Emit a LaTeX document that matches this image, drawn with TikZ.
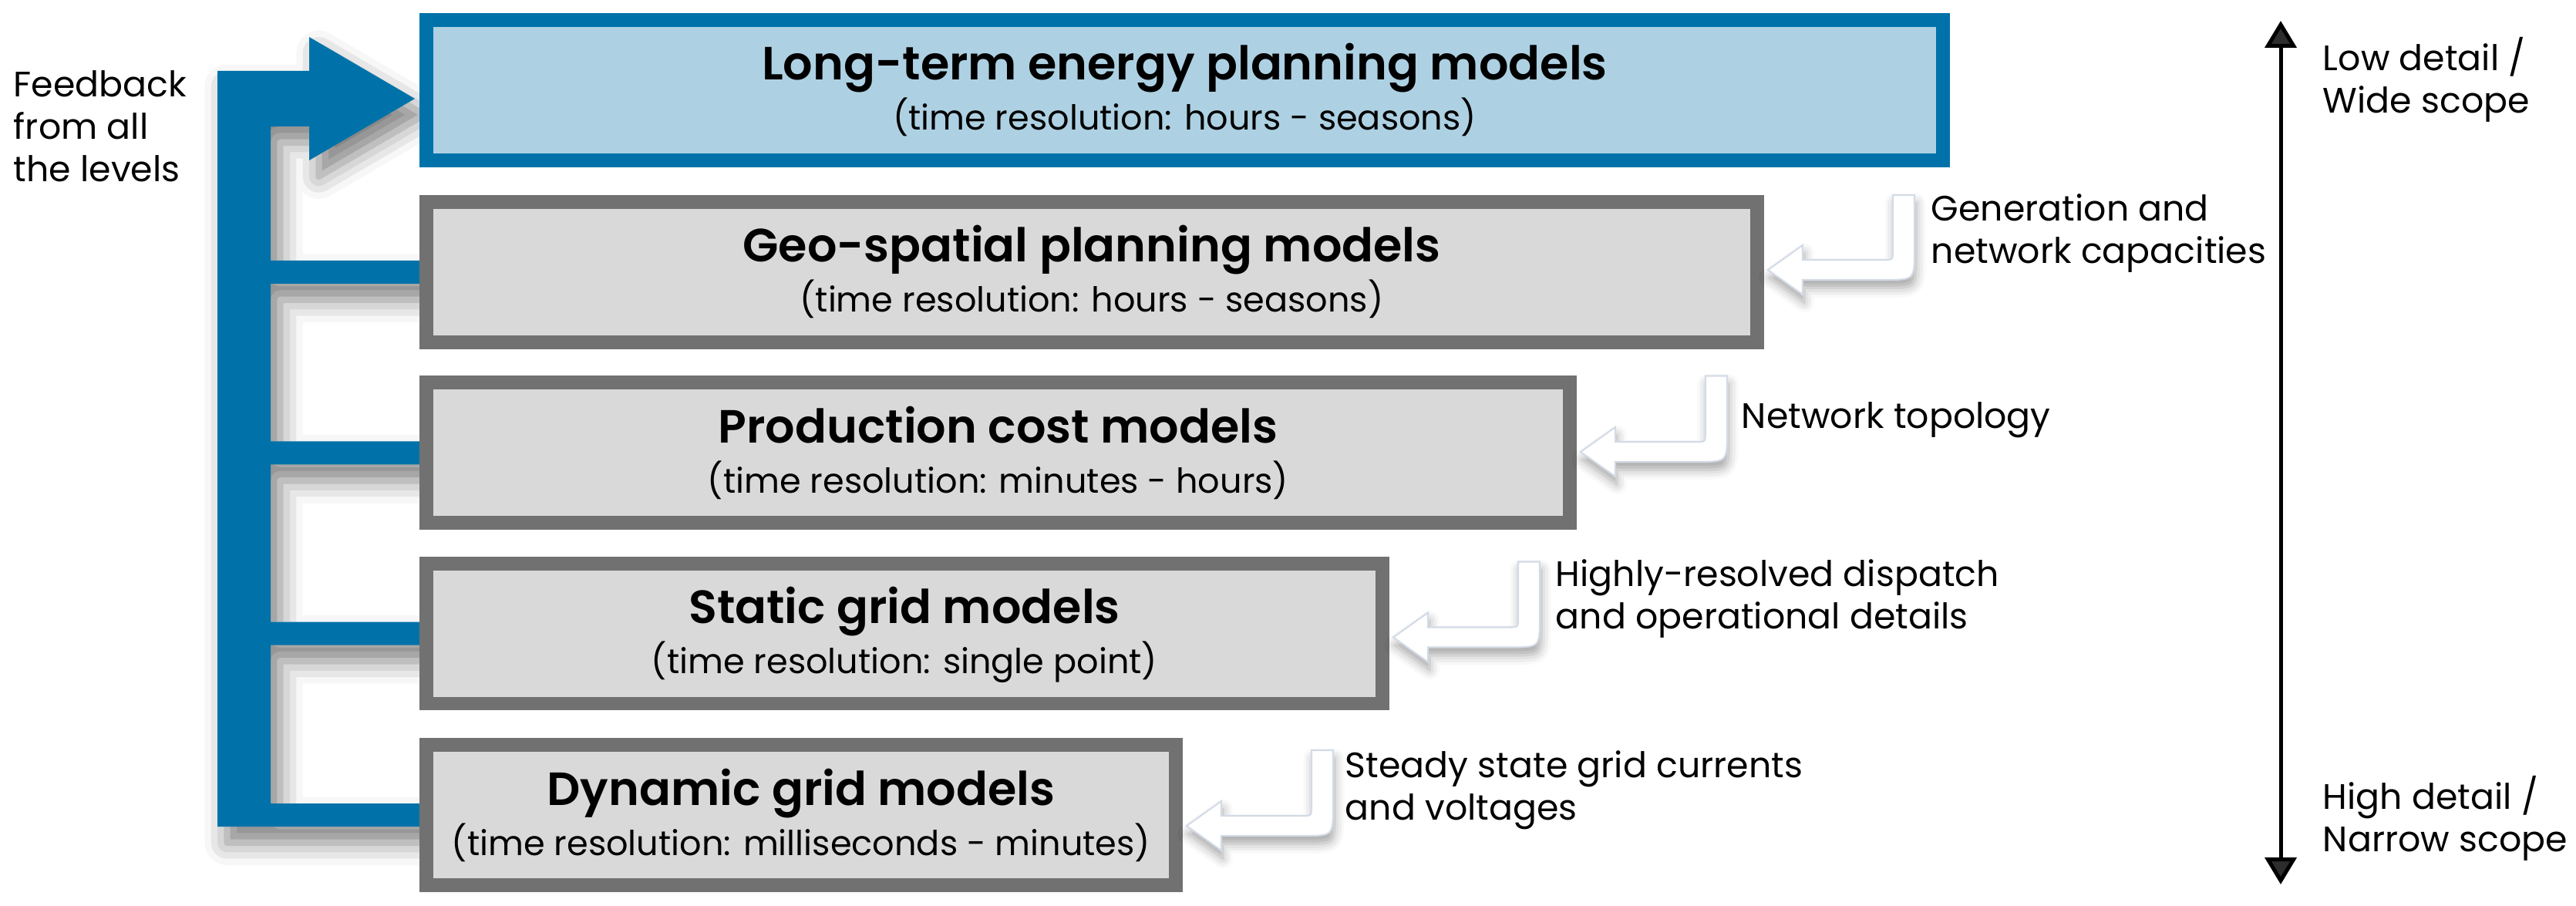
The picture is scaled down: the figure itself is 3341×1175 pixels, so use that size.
\documentclass[tikz,border=0pt]{standalone}
\usepackage{fontspec}
\setmainfont{Poppins}
\newfontfamily\titlefont{Poppins SemiBold}
\usetikzlibrary{calc,shadows.blur,arrows.meta}
\definecolor{fbblue}{HTML}{0072A9}
\definecolor{ltblue}{HTML}{ADD1E3}
\definecolor{bordergray}{HTML}{717171}
\definecolor{boxgray}{HTML}{D9D9D9}
\definecolor{arrowedge}{HTML}{D3DBE6}
\newcommand\bentarr[3]{%
  \coordinate (#1-tip) at ($(#1.east)+(14,#2)$);
  \coordinate (#1-top) at ($(#1.north)+(0,#3)$);
  \coordinate (#1-in) at ($(#1-tip)+(162,0)$);
  \coordinate (#1-out) at ($(#1-tip)+(190,0)$);
  \path[bentarrow] (#1-tip) -- ($(#1-tip)+(45,-32)$) -- ($(#1-tip)+(45,-13)$)
    -- ($(#1-tip)+(150,-13)$) .. controls ($(#1-tip)+(162,-13)$) .. ($(#1-tip)+(162,-25)$)
    -- (#1-in |- #1-top) -- (#1-out |- #1-top)
    -- ($(#1-tip)+(190,-25)$) .. controls ($(#1-tip)+(190,13)$) .. ($(#1-tip)+(152,13)$)
    -- ($(#1-tip)+(45,13)$) -- ($(#1-tip)+(45,32)$) -- cycle;}
\begin{document}
\begin{tikzpicture}[x=0.24pt,y=-0.24pt,
  modelbox/.style={draw=bordergray, fill=boxgray, line width=4.32pt, minimum height=43.68pt, inner sep=0pt, outer sep=0pt, anchor=west},
  topbox/.style={modelbox, draw=fbblue, fill=ltblue},
  titletext/.style={anchor=base, font=\titlefont\fontsize{14.5}{17}\selectfont, inner sep=0pt},
  subtext/.style={anchor=base, font=\fontsize{10.7}{13}\selectfont, inner sep=0pt},
  sidetext/.style={anchor=base west, align=left, font=\fontsize{11}{13.2}\selectfont, inner sep=0pt},
  feedshape/.style={fill=fbblue, blur shadow={shadow xshift=3pt, shadow yshift=-5pt, shadow blur radius=7pt, shadow opacity=50}},
  bentarrow/.style={fill=white, draw=arrowedge, line width=0.5pt, blur shadow={shadow xshift=0.5pt, shadow yshift=-2.5pt, shadow blur radius=3pt, shadow opacity=35}},
  scalearrow/.style={line width=1.2pt, {Triangle[width=9.8pt,length=8.4pt]}-{Triangle[width=9.8pt,length=8.4pt]}}
]
\useasboundingbox (0,0) rectangle (3341,1175);

% left edges of the model boxes
\coordinate (lt-w) at (553,117);
\coordinate (geo-w) at (553,353);
\coordinate (pc-w) at (553,587.5);
\coordinate (sg-w) at (553,821.5);
\coordinate (dg-w) at (553,1057);

% feedback arrow (drawn first, boxes cover its ends)
\coordinate (fbo) at (282,92);
\coordinate (fbi) at (351,164);
\coordinate (fbh) at (401,128);
\coordinate (fbtip) at ($(lt-w)+(-15,11)$);
\foreach \b in {geo,pc,sg,dg}{
  \coordinate (\b-a) at ($(\b-w)+(0,-15)$);
  \coordinate (\b-b) at ($(\b-w)+(0,15)$);
}
\path[feedshape] (fbo |- dg-b) -- (dg-b) -- (dg-a) -- (fbi |- dg-a)
  -- (fbi |- sg-b) -- (sg-b) -- (sg-a) -- (fbi |- sg-a)
  -- (fbi |- pc-b) -- (pc-b) -- (pc-a) -- (fbi |- pc-a)
  -- (fbi |- geo-b) -- (geo-b) -- (geo-a) -- (fbi |- geo-a)
  -- (fbi) -- (fbh |- fbi) -- ($(fbh)+(0,80)$) -- (fbtip) -- ($(fbh)+(0,-80)$)
  -- (fbh |- fbo) -- (fbo) -- cycle;

% model boxes
\node[topbox, minimum width=472.08pt] (lt) at (lt-w) {};
\node[modelbox, minimum width=414.24pt] (geo) at (geo-w) {};
\node[modelbox, minimum width=355.92pt] (pc) at (pc-w) {};
\node[modelbox, minimum width=297.6pt] (sg) at (sg-w) {};
\node[modelbox, minimum width=233.28pt] (dg) at (dg-w) {};

% box texts
\node[titletext] (lt-t) at ($(lt.center)+(0,-13)$) {Long-term energy planning models};
\node[subtext] (lt-s) at ($(lt.center)+(0,52)$) {(time resolution: hours - seasons)};
\node[titletext] (geo-t) at ($(geo.center)+(0,-13)$) {Geo-spatial planning models};
\node[subtext] (geo-s) at ($(geo.center)+(0,52)$) {(time resolution: hours - seasons)};
\node[titletext] (pc-t) at ($(pc.center)+(0,-13)$) {Production cost models};
\node[subtext] (pc-s) at ($(pc.center)+(0,52)$) {(time resolution: minutes - hours)};
\node[titletext] (sg-t) at ($(sg.center)+(0,-13)$) {Static grid models};
\node[subtext] (sg-s) at ($(sg.center)+(0,52)$) {(time resolution: single point)};
\node[titletext] (dg-t) at ($(dg.center)+(0,-13)$) {Dynamic grid models};
\node[subtext] (dg-s) at ($(dg.center)+(0,52)$) {(time resolution: milliseconds - minutes)};

% white bent arrows
\bentarr{geo}{-3}{-9}
\bentarr{pc}{-1.5}{-9}
\bentarr{sg}{5}{-2}
\bentarr{dg}{14}{7}

% scale arrow
\coordinate (sc-top) at (2958,27);
\coordinate (sc-bot) at (2958,1147);
\draw[scalearrow] (sc-top) -- (sc-bot);

% side labels (base = baseline of last line)
\node[sidetext] (fb) at (17,236) {Feedback\\from all\\the levels};
\node[sidetext] (lab-geo) at (2504,342) {Generation and\\network capacities};
\node[sidetext] (lab-pc) at (2258,556) {Network topology};
\node[sidetext] (lab-sg) at (2017,816) {Highly-resolved dispatch\\and operational details};
\node[sidetext] (lab-dg) at (1744,1063) {Steady state grid currents\\and voltages};
\node[sidetext] (lab-lo) at (3012,147) {Low detail /\\Wide scope};
\node[sidetext] (lab-hi) at (3012,1104) {High detail /\\Narrow scope};
\end{tikzpicture}
\end{document}
